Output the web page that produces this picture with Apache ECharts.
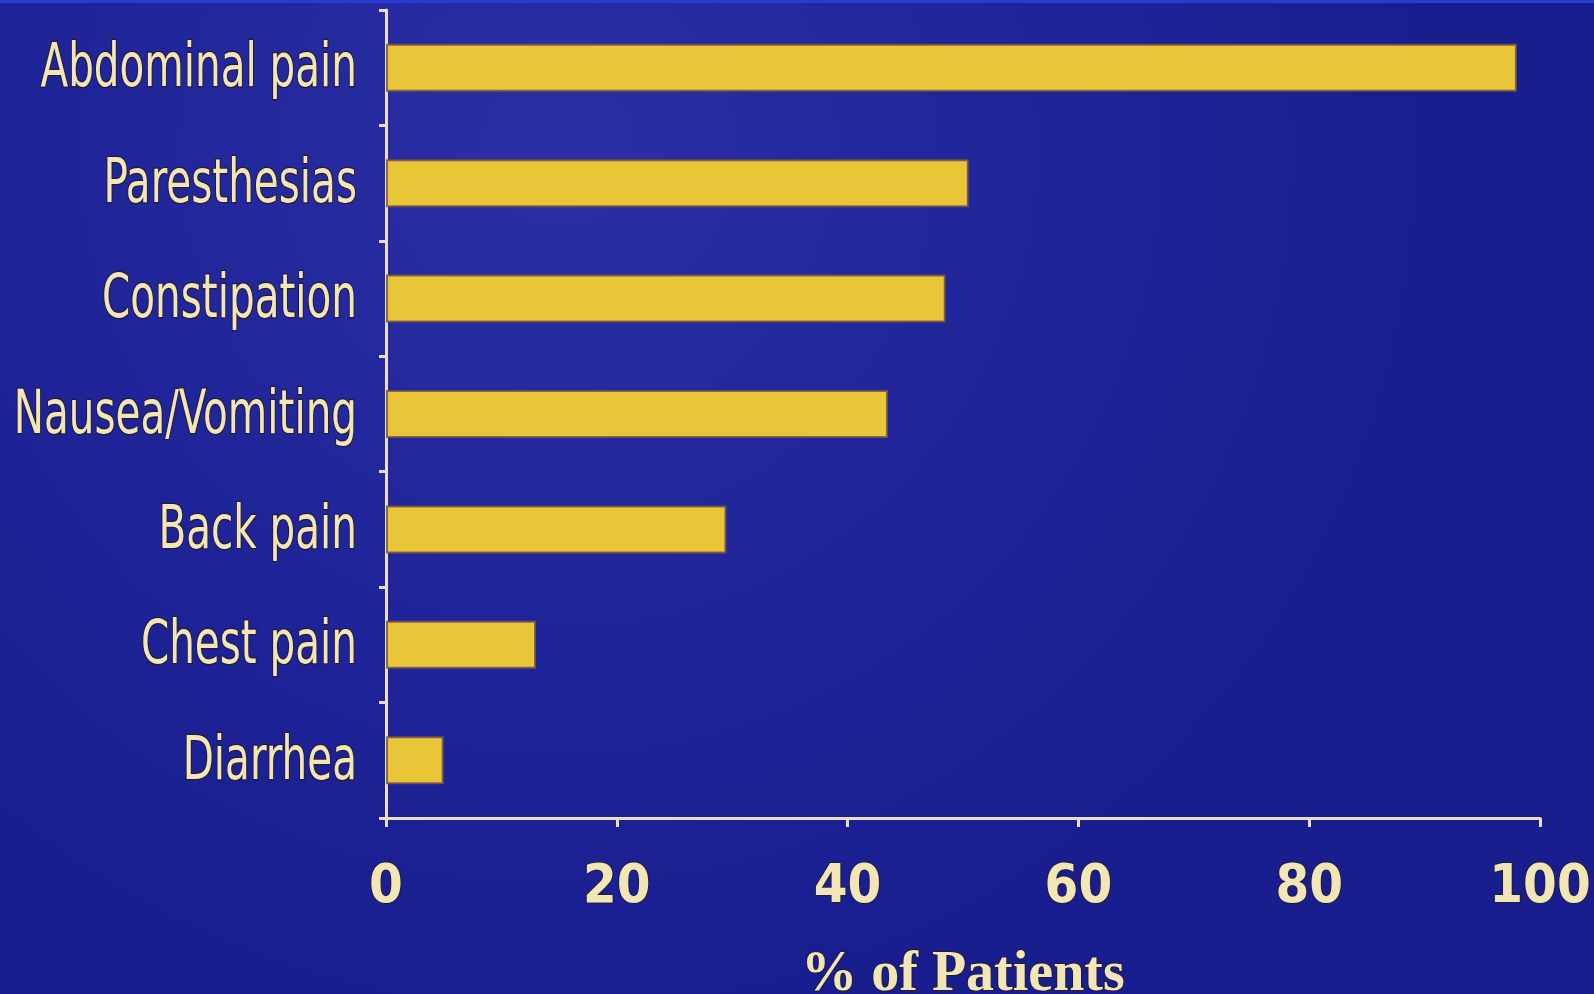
<!DOCTYPE html>
<html>
<head>
<meta charset="utf-8">
<title>Symptoms</title>
<script src="https://cdn.jsdelivr.net/npm/echarts@6/dist/echarts.min.js"></script>
<style>
  html, body { margin: 0; padding: 0; background: #1b2094; }
  #chart { width: 1594px; height: 994px; }
</style>
</head>
<body>
<div id="chart"></div>
<script>
// Symptom categories, top to bottom
const symptoms = ['Abdominal pain', 'Paresthesias', 'Constipation', 'Nausea/Vomiting', 'Back pain', 'Chest pain', 'Diarrhea'];
// Share of patients reporting each symptom (%)
const percentOfPatients = [98, 50.5, 48.5, 43.5, 29.5, 13, 5];
// Value axis ticks
const xTicks = [0, 20, 40, 60, 80, 100];
const xTitle = '% of Patients';

const cream = '#f2e6b6';
const axisCream = '#e9dec4';
const barYellow = '#e8c637';
const outline = '#241a3c';
const condensed = '"DejaVu Sans Condensed", "DejaVu Sans", sans-serif';

const chart = echarts.init(document.getElementById('chart'), null, { renderer: 'canvas' });

chart.setOption({
  backgroundColor: {
    type: 'radial', x: 0.35, y: 0.15, r: 0.9,
    colorStops: [
      { offset: 0, color: '#2b2fa3' },
      { offset: 0.55, color: '#1f2499' },
      { offset: 1, color: '#181e8e' }
    ]
  },
  animation: false,
  graphic: [{
    type: 'rect', left: 0, top: 0,
    shape: { width: 1594, height: 3 },
    style: { fill: '#2a3ad8' }
  }],
  grid: { left: 386, right: 54, top: 10, bottom: 176, containLabel: false, outerBoundsMode: 'none' },
  xAxis: {
    type: 'value',
    min: xTicks[0],
    max: xTicks[xTicks.length - 1],
    interval: xTicks[1] - xTicks[0],
    splitLine: { show: false },
    axisLine: { show: true, lineStyle: { color: axisCream, width: 3 } },
    axisTick: { show: true, length: 9, lineStyle: { color: axisCream, width: 3 } },
    axisLabel: {
      margin: 43,
      color: cream,
      fontFamily: condensed,
      fontWeight: 'bold',
      fontSize: 54,
      textBorderColor: outline,
      textBorderWidth: 2,
      formatter: v => String(v)
    },
    name: xTitle,
    nameLocation: 'middle',
    nameGap: 130,
    nameTextStyle: {
      color: cream,
      fontFamily: '"Liberation Serif", "DejaVu Serif", serif',
      fontWeight: 'bold',
      fontSize: 56,
      textBorderColor: outline,
      textBorderWidth: 2
    }
  },
  yAxis: {
    type: 'category',
    data: symptoms,
    inverse: true,
    axisLine: { show: true, lineStyle: { color: axisCream, width: 3 } },
    axisTick: { show: true, length: 7, lineStyle: { color: axisCream, width: 3 } },
    axisLabel: { show: false }
  },
  series: [{
    type: 'bar',
    data: percentOfPatients,
    barWidth: 48,
    itemStyle: {
      color: barYellow,
      borderColor: 'rgba(120, 85, 70, 0.85)',
      borderWidth: 2
    }
  }, {
    // Category names, set in a tall narrow face to the left of the axis
    type: 'custom',
    clip: false,
    silent: true,
    data: symptoms.map((name, i) => [0, i]),
    encode: { x: 0, y: 1 },
    renderItem: (params, api) => {
      const p = api.coord([0, api.value(1)]);
      return {
        type: 'text',
        x: p[0] - 29,
        y: p[1] + 3,
        scaleX: 0.75,
        style: {
          text: symptoms[params.dataIndex],
          align: 'right',
          verticalAlign: 'middle',
          fontFamily: condensed,
          fontSize: 60,
          fill: cream,
          stroke: outline,
          lineWidth: 2.5
        }
      };
    }
  }]
});
</script>
</body>
</html>
